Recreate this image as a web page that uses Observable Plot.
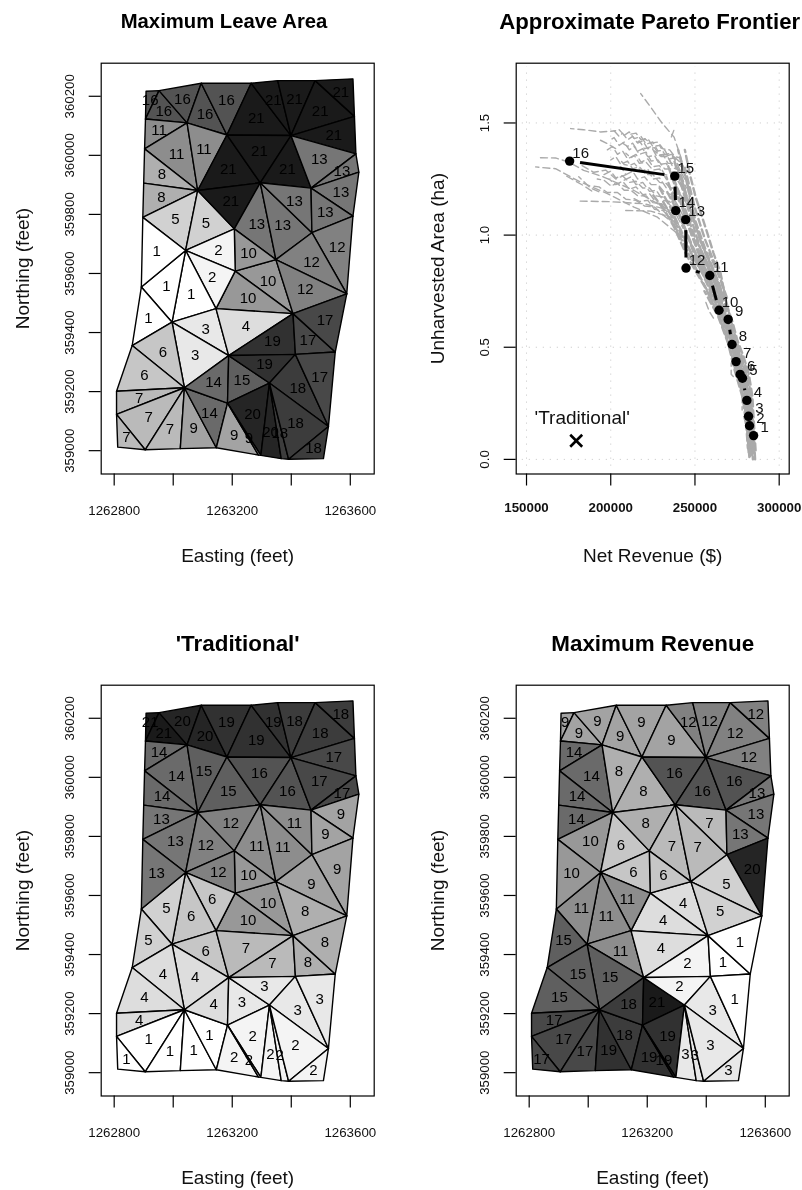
<!DOCTYPE html>
<html><head><meta charset="utf-8">
<script src="https://cdn.jsdelivr.net/npm/d3@7"></script>
<script src="https://cdn.jsdelivr.net/npm/@observablehq/plot@0.6"></script>
<style>
html,body{margin:0;padding:0;background:#fff;overflow:hidden}
#page{position:relative;width:802px;height:1190px;overflow:hidden}
.panel{position:absolute;width:401px;height:568px;will-change:transform}
.panel svg{max-width:none;overflow:visible}
</style></head><body><div id="page"></div>
<script>
// Stand vertices (feet)
const vertexNames = ["A","B","C","D","E","F","G","H","I","J","K","L","M","N","O","P","Q","R","R2","S","T","U","V","W","X","Y","Z","AA","AB","AC","AD","b","c","d","e","f","g","h","i","j","k","l","m","n","o","p","q","r","s","t"];
const eastings = [1262908,1262952,1263095,1263264,1263354,1263481,1263609,1263614,1263619,1263629,1263609,1263588,1263549,1263526,1263509,1263391,1263366,1263297,1263289,1263146,1263024,1262905,1262812,1262808,1262808,1262861,1262892,1262897,1262900,1262903,1262906,1263047,1263182,1263399,1263083,1263295,1263467,1263207,1263042,1263470,1263348,1263210,1263145,1262996,1263406,1263188,1263414,1263326,1263038,1263184];
const northings = [360217,360219,360244,360244,360253,360253,360259,360132,360005,359943,359794,359531,359334,359082,358973,358971,358973,358984,358985,359010,359007,359003,359012,359123,359201,359356,359554,359790,359906,360022,360123,360110,360069,360067,359881,359907,359889,359751,359678,359738,359647,359608,359481,359435,359464,359322,359326,359229,359213,359161];
const triangles = ["A B AD","B AD b","B C b","C b c","C D c","D c d","D E d","E F d","F d H","F G H","d H I","AD AC b","AC b e","b c e","c e f","c d f","d f g","d I g","I J g","J K g","AC AB e","AB AA e","AA e i","e h i","e f h","f h k","f j k","f g j","g j K","j K L","j k L","k l o","k o L","l m o","h l k","h i l","i l m","i m n","i Z n","AA Z i","Z Y n","n m p","n p s","m p o","p o q","o q M","o L M","Y n s","Y X s","X W s","W U s","W V U","U T s","T s S","s S t","s p t","p t r","p q r","q r N","q M N","t r R","t S R2","t R2 R","r R Q","r Q P","r N P","N O P"];
const maxLeaveArea = [16,16,16,16,16,21,21,21,21,21,21,11,11,11,21,21,21,13,13,13,8,8,5,5,21,13,13,13,13,12,12,10,12,10,10,2,2,1,1,1,1,3,3,4,19,17,17,6,6,7,7,7,7,9,14,14,15,19,18,17,20,9,9,20,18,18,18];
const traditional = [21,21,20,20,19,19,19,18,18,18,17,14,14,15,15,16,16,17,17,9,14,13,13,12,12,11,11,11,9,9,9,10,8,10,10,12,6,6,5,13,5,6,4,7,7,8,8,4,4,4,1,1,1,1,1,4,3,3,3,3,2,2,2,2,2,2,2];
const maxRevenue = [9,9,9,9,9,9,12,12,12,12,12,14,14,8,8,16,16,16,13,13,14,14,10,6,8,7,7,7,13,20,5,4,5,4,6,6,11,11,11,10,15,11,15,4,2,1,1,15,15,17,17,17,17,19,18,18,21,2,3,1,19,19,19,3,3,3,3];
const eastingTicks = [1262800,1263000,1263200,1263400,1263600];
const eastingLabels = [1262800,1263200,1263600];
const northingTicks = [359000,359200,359400,359600,359800,360000,360200];

// Pareto frontier: net revenue ($), unharvested area (ha)
const frontierId = [1,2,3,4,5,6,7,8,9,10,11,12,13,14,15,16];
const frontierRevenue = [284800,282400,281800,280800,278200,276800,274400,272000,269700,264300,258800,244700,244500,238600,238000,175600];
const frontierArea = [0.106,0.150,0.192,0.263,0.362,0.379,0.436,0.512,0.624,0.665,0.820,0.853,1.069,1.109,1.263,1.330];
const traditionalRevenue = 179500, traditionalArea = 0.083;
const revenueTicks = [150000,200000,250000,300000];
const areaTicks = [0,0.5,1,1.5];
// Dashed grey search paths, [revenue in k$, area in ha]
const bandPaths = [
 [[286.0,.04],[285.0,.16],[284.1,.28],[282.0,.38],[278.8,.46],[275.2,.53],[272.4,.61],[269.2,.68],[265.2,.83],[261.0,.92],[257.3,1.01],[253.4,1.10],[250.4,1.17],[247,1.27],[244,1.38]],
 [[281.9,.03],[281.0,.14],[279.0,.27],[274.0,.40],[270.0,.52],[264.2,.64],[256.5,.76],[245.0,.91],[238.0,1.03],[232,1.11],[225,1.18]],
 [[282.7,.02],[281.6,.17],[279.9,.29],[275.2,.42],[271,.53],[265.4,.65],[258.1,.78],[247.2,.93],[240.5,1.04],[235,1.13],[229,1.21]],
 [[283.4,.04],[282.3,.15],[280.6,.27],[276.3,.40],[271.8,.52],[266.2,.66],[259.3,.77],[249.8,.91],[243,1.05],[238,1.15],[233,1.26]],
 [[284.1,.03],[283,.16],[281.4,.28],[277.4,.41],[272.6,.53],[267.2,.64],[261,.77],[252,.92],[245.5,1.05],[240,1.18],[234,1.31]],
 [[284.8,.01],[283.7,.17],[282.2,.27],[278.6,.41],[273.5,.53],[268,.65],[262.7,.77],[254.5,.91],[247.8,1.07],[242,1.22],[237,1.35]],
 [[285.4,.04],[284.4,.15],[283,.29],[279.8,.40],[274.4,.52],[269.2,.65],[264.6,.78],[257,.92],[250.4,1.06],[245,1.24],[240,1.38]],
 [[282.3,.01],[281.2,.12],[279.5,.26],[274.8,.40],[270.6,.50],[265,.63],[258,.74]],
 [[283,.00],[281.9,.13],[280.2,.25],[275.8,.40],[271.4,.51],[265.8,.64],[258.8,.75]],
 [[283.8,.02],[282.7,.14],[281,.26],[276.9,.40],[272.2,.52],[266.7,.65],[260.2,.76],[251,.90]],
 [[284.4,.00],[283.3,.13],[281.8,.26],[278,.40],[273,.52],[267.6,.65],[261.8,.76],[253,.90]],
 [[285.1,.02],[284,.13],[282.6,.26],[279.2,.40],[274,.52],[268.6,.64],[263.6,.77],[255.7,.90]],
 [[285.7,.00],[284.7,.14],[283.5,.27],[280.8,.40],[274.9,.52],[270,.66],[265.8,.79],[258.5,.92]],
 [[281.4,.05],[280.5,.15],[278.5,.27],[273.5,.40],[269.6,.52],[263.6,.64],[255.6,.75]],
 [[261,.70],[254,.80],[244,.95],[236,1.07]],
 [[263,.72],[256,.83],[247,.97],[240,1.10],[233,1.2]],
 [[265,.74],[259,.85],[250,.99],[244,1.12],[238,1.24]],
 [[267,.72],[261,.84],[253,.98],[247,1.12],[241,1.27]],
 [[269,.72],[263.5,.84],[256,.98],[250,1.12],[244,1.30]],
 [[266,.70],[260,.82],[251,.95],[245,1.08],[239,1.2]],
 [[268,.70],[262,.82],[254.5,.95],[248,1.1],[242,1.25]],
 [[264,.70],[257.5,.82],[248.5,.95],[242,1.07],[236,1.17]],
 [[262,.70],[255,.82],[245.5,.95],[238,1.06],[231,1.15]]
];
const tailPaths = [
 [[256.5,.70],[258.5,.66],[261,.63]],
 [[271.5,.43],[271.5,.38],[274,.36]],
 [[278,.30],[278,.22]],
 [[279,.19],[280,.16]],
 [[217.8,1.631],[223.7,1.571],[230.7,1.497],[237.6,1.437],[241.6,1.348],[245.5,1.23]],
 [[238.2,1.482],[235.6,1.43]],
 [[158.3,1.345],[167.2,1.344],[175,1.326],[183.9,1.289],[195.8,1.259],[213.6,1.2],[227.9,1.14],[237.4,1.08]],
 [[155.4,1.304],[167.2,1.296],[182,1.237],[198,1.185],[213.8,1.125],[227.7,1.08],[239.6,1.007]],
 [[179.7,1.152],[199.9,1.149],[219.6,1.14],[235.6,1.11]],
 [[208.9,1.11],[223.7,1.107],[235.6,1.08]],
 [[176.2,1.475],[183.9,1.47],[194,1.46],[202.9,1.465]],
 [[192,1.43],[198,1.408],[202.9,1.386]],
 [[183,1.31],[190,1.28],[197,1.29],[203,1.25],[209,1.27]],
 [[181,1.26],[188,1.21],[194,1.19]],
 [[172,1.27],[177,1.25],[184,1.22],[190,1.19]]
];
const cloudPaths = [
 [[202,1.465],[205,1.44],[207,1.455],[210,1.425],[213,1.44],[216,1.41],[219,1.42],[222,1.385],[226,1.39],[229,1.355],[233,1.36],[236,1.32],[239,1.31],[242,1.26]],
 [[205,1.47],[208,1.445],[211,1.46],[214,1.43],[218,1.44],[221,1.405],[225,1.415],[228,1.375],[232,1.38],[235,1.34],[238,1.345],[241,1.29],[244,1.25]],
 [[199,1.42],[202,1.435],[205,1.40],[208,1.415],[211,1.38],[214,1.395],[217,1.36],[221,1.37],[224,1.33],[228,1.335],[232,1.295],[236,1.295],[240,1.24],[244,1.19]],
 [[198,1.38],[201,1.395],[204,1.36],[207,1.375],[210,1.34],[214,1.355],[217,1.32],[221,1.325],[225,1.29],[229,1.295],[233,1.25],[237,1.25],[241,1.19],[245,1.14]],
 [[200,1.335],[203,1.35],[206,1.315],[210,1.33],[213,1.295],[217,1.305],[221,1.27],[225,1.27],[229,1.235],[233,1.23],[237,1.19],[241,1.16],[245,1.09]],
 [[203,1.29],[206,1.305],[209,1.27],[213,1.285],[216,1.25],[220,1.26],[224,1.225],[228,1.225],[232,1.19],[236,1.18],[240,1.13],[244,1.07]],
 [[196,1.27],[200,1.285],[203,1.255],[207,1.265],[211,1.235],[215,1.24],[219,1.21],[223,1.21],[227,1.175],[231,1.17],[235,1.135],[239,1.11],[243,1.05]],
 [[192,1.25],[196,1.245],[200,1.22],[204,1.23],[208,1.2],[212,1.2],[216,1.175],[221,1.175],[225,1.145],[230,1.14],[234,1.105],[238,1.08],[242,1.02]],
 [[188,1.22],[193,1.215],[198,1.19],[204,1.19],[209,1.16],[215,1.155],[220,1.13],[226,1.125],[231,1.09],[236,1.06],[240,1.01]],
 [[212,1.45],[215,1.455],[218,1.425],[222,1.43],[225,1.395],[229,1.4],[232,1.36],[236,1.365],[239,1.32],[243,1.30],[246,1.22]],
 [[220,1.43],[224,1.41],[228,1.415],[231,1.385],[235,1.38],[238,1.35],[241,1.345],[244,1.28],[247,1.19]],
 [[214,1.405],[217,1.42],[220,1.385],[224,1.395],[227,1.355],[231,1.36],[234,1.32],[238,1.32],[241,1.27],[245,1.21]],
 [[207,1.41],[210,1.395],[213,1.41],[216,1.375],[219,1.385],[222,1.35],[226,1.355],[229,1.315],[233,1.32],[236,1.275],[240,1.26],[243,1.20]],
 [[209,1.365],[212,1.345],[215,1.36],[218,1.325],[222,1.34],[225,1.305],[229,1.31],[232,1.27],[236,1.265],[239,1.21],[243,1.16]],
 [[205,1.34],[208,1.315],[211,1.31],[214,1.32],[218,1.285],[222,1.295],[225,1.25],[229,1.255],[233,1.21],[237,1.21],[241,1.14]],
 [[208,1.245],[212,1.26],[215,1.225],[219,1.235],[223,1.195],[227,1.2],[231,1.155],[235,1.15],[239,1.09],[243,1.03]],
 [[199,1.25],[203,1.225],[207,1.24],[211,1.205],[215,1.215],[219,1.18],[223,1.185],[227,1.145],[232,1.135],[236,1.09],[240,1.05]],
 [[212,1.17],[217,1.15],[222,1.155],[226,1.115],[231,1.11],[236,1.07],[240,1.035]],
 [[232,1.35],[236,1.36],[239,1.34],[242,1.32],[245,1.24],[247,1.15]],
 [[226,1.375],[230,1.35],[234,1.35],[237,1.30],[241,1.29],[244,1.22],[246,1.12]]
];

const F = "Liberation Sans, Arial, sans-serif";
const tall = 568, wide = 401;
const margins = {marginLeft:100.7, marginRight:wide-373.7, marginTop:62.7, marginBottom:tall-473.5};
const tickLen = 12, tickFont = 13.3, axisFont = 19;

function titleMarks(title, xlab, ylab, titleSize, titleDx){
  return [
    Plot.text([title],{frameAnchor:"top",dy:-41.5,lineAnchor:"middle",dx:titleDx,fontSize:titleSize,fontWeight:"bold",fill:"#000"}),
    Plot.text([xlab],{frameAnchor:"bottom",dy:81.5,lineAnchor:"middle",fontSize:axisFont,fill:"#111"}),
    Plot.text([ylab],{frameAnchor:"left",dx:-78.7,rotate:-90,textAnchor:"middle",lineAnchor:"middle",fontSize:axisFont,fill:"#111"})
  ];
}
function place(plot,left,top){
  const d=document.createElement("div");d.className="panel";d.style.left=left+"px";d.style.top=top+"px";
  d.appendChild(plot);document.getElementById("page").appendChild(d);
}
function mapPanel(title,values,left,top,titleSize,titleDx){
  const rows = triangles.flatMap((t,i)=>t.split(" ").map(n=>{const k=vertexNames.indexOf(n);return {id:i,x:eastings[k],y:northings[k],value:values[i]};}));
  const cents = triangles.map((t,i)=>{const ks=t.split(" ").map(n=>vertexNames.indexOf(n));return {x:d3.mean(ks,k=>eastings[k]),y:d3.mean(ks,k=>northings[k]),value:values[i]};});
  place(Plot.plot({
    width:wide,height:tall,...margins,
    style:{fontFamily:F,background:"transparent",overflow:"visible"},
    x:{domain:[1262756,1263681]},
    y:{domain:[358921,360312]},
    color:{type:"linear",domain:[1,21],range:["#ffffff","#1a1a1a"]},
    marks:[
      Plot.line(rows,{x:"x",y:"y",z:"id",fill:"value",stroke:"#000",strokeWidth:1.4,curve:"linear-closed"}),
      Plot.text(cents,{x:"x",y:"y",text:d=>String(d.value),fontSize:15,fill:"#000"}),
      Plot.frame({stroke:"#000",strokeWidth:1.2}),
      Plot.axisX({ticks:eastingTicks,tickSize:tickLen,tickPadding:20,fontSize:tickFont,label:null,stroke:"#000",fill:"#111",strokeWidth:1.2,
        tickFormat:d=>eastingLabels.includes(d)?String(d):""}),
      Plot.axisY({ticks:northingTicks,tickSize:tickLen,tickRotate:-90,tickPadding:15,fontSize:tickFont,label:null,stroke:"#000",fill:"#111",strokeWidth:1.2,tickFormat:d=>String(d)}),
      ...titleMarks(title,"Easting (feet)","Northing (feet)",titleSize,titleDx)
    ]
  }),left,top);
}

function dashMarks(list,width){
  const rows=list.flatMap((p,i)=>p.map(([r,h])=>({id:i,x:r*1000,y:h})));
  return [0,1,2].map(k=>Plot.line(rows.filter(d=>d.id%3===k),{x:"x",y:"y",z:"id",stroke:"#aaaaaa",strokeWidth:width,strokeDasharray:"7,4",strokeDashoffset:k*3.7}));
}
function frontierPanel(left,top){
  const xDomain=[143876,305945], yDomain=[-0.0652,1.7665];
  const fw=wide-margins.marginLeft-margins.marginRight, fh=tall-margins.marginTop-margins.marginBottom;
  const kx=fw/(xDomain[1]-xDomain[0]), ky=fh/(yDomain[1]-yDomain[0]);
  const pts=frontierId.map((id,i)=>({id,x:frontierRevenue[i],y:frontierArea[i]}));
  const gap=10.5, segs=[];
  d3.pairs(pts).forEach(([a,b])=>{
    const dx=(b.x-a.x)*kx, dy=(b.y-a.y)*ky, L=Math.hypot(dx,dy);
    if(L>2*gap){const f=gap/L;segs.push({x1:a.x+(b.x-a.x)*f,y1:a.y+(b.y-a.y)*f,x2:b.x-(b.x-a.x)*f,y2:b.y-(b.y-a.y)*f});}
  });
  place(Plot.plot({
    width:wide,height:tall,...margins,
    style:{fontFamily:F,background:"transparent",overflow:"visible"},
    x:{domain:xDomain},y:{domain:yDomain},
    marks:[
      Plot.ruleX(revenueTicks,{y1:-0.03,y2:1.75,stroke:"#c4c4c4",strokeDasharray:"1,6"}),
      Plot.ruleY(areaTicks,{x1:147500,x2:302500,stroke:"#c4c4c4",strokeDasharray:"1,6"}),
      ...dashMarks(bandPaths,2.4),
      ...dashMarks(tailPaths,1.4),
      ...dashMarks(cloudPaths,1.4),
      Plot.link(segs,{x1:"x1",y1:"y1",x2:"x2",y2:"y2",stroke:"#000",strokeWidth:3}),
      Plot.dot(pts,{x:"x",y:"y",r:4.7,fill:"#000"}),
      Plot.text(pts,{x:"x",y:"y",text:d=>String(d.id),dx:11,dy:-8,fontSize:15,fill:"#111"}),
      Plot.dot([0],{x:()=>traditionalRevenue,y:()=>traditionalArea,symbol:"times",r:5.5,stroke:"#000",strokeWidth:2.6}),
      Plot.text(["'Traditional'"],{x:()=>traditionalRevenue,y:()=>traditionalArea,dx:6,dy:-23,fontSize:axisFont,fill:"#111"}),
      Plot.frame({stroke:"#000",strokeWidth:1.2}),
      Plot.axisX({ticks:revenueTicks,tickSize:tickLen,tickPadding:17,fontSize:tickFont,fontWeight:"bold",label:null,stroke:"#000",fill:"#111",strokeWidth:1.2,tickFormat:d=>String(d)}),
      Plot.axisY({ticks:areaTicks,tickSize:tickLen,tickRotate:-90,tickPadding:15,fontSize:tickFont,label:null,stroke:"#000",fill:"#111",strokeWidth:1.2,tickFormat:d=>d.toFixed(1)}),
      ...titleMarks("Approximate Pareto Frontier","Net Revenue ($)","Unharvested Area (ha)",22.2,-3)
    ]
  }),left,top);
}

mapPanel("Maximum Leave Area",maxLeaveArea,0,0,20.3,-13.7);
frontierPanel(415,0);
mapPanel("'Traditional'",traditional,0,622,22.4,0);
mapPanel("Maximum Revenue",maxRevenue,415,622,22.4,0);
</script></body></html>
